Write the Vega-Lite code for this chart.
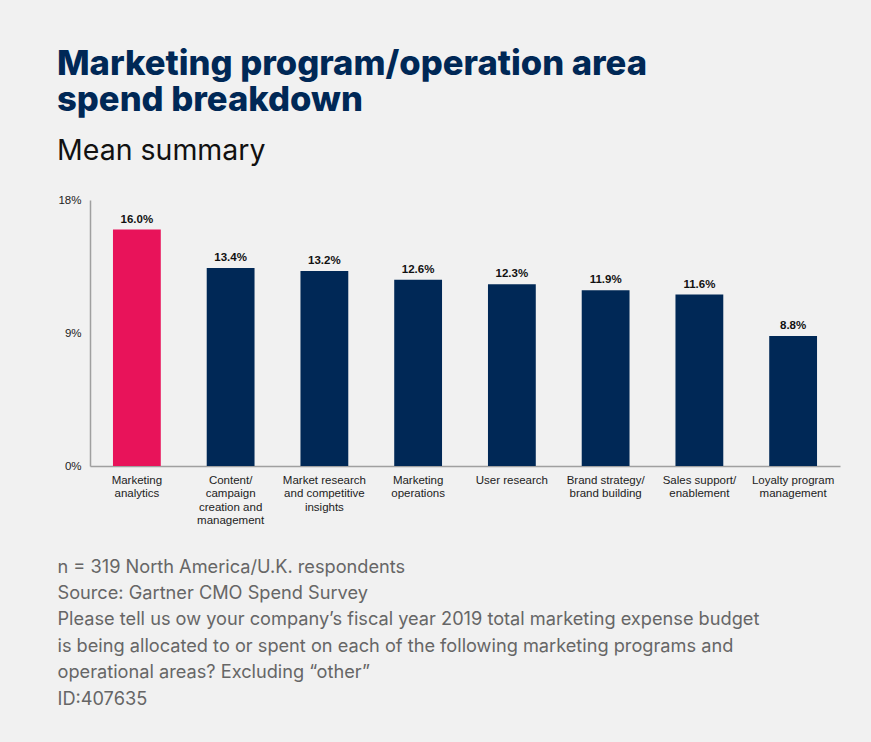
{
  "$schema": "https://vega.github.io/schema/vega-lite/v6.json",
  "width": 750,
  "height": 266,
  "background": "#f1f1f1",
  "padding": {"left": 57, "top": 46, "right": 40, "bottom": 60},
  "title": {
    "text": ["Marketing program/operation area", "spend breakdown"],
    "subtitle": "Mean summary",
    "anchor": "start",
    "frame": "bounds",
    "font": "Inter",
    "fontSize": 34.6,
    "fontWeight": 800,
    "color": "#002856",
    "lineHeight": 36,
    "subtitleFont": "Inter",
    "subtitleFontSize": 28.5,
    "subtitleFontWeight": 400,
    "subtitleColor": "#111111",
    "subtitlePadding": 18,
    "offset": 28
  },
  "config": {
    "view": {"stroke": null},
    "axis": {"labelFont": "Liberation Sans", "labelFontSize": 11.5, "labelColor": "#222222", "domainColor": "#a0a0a0", "domainWidth": 1.5, "ticks": false, "grid": false}
  },
  "data": {
    "values": [
      {"area": "Marketing|analytics", "share": 0.160},
      {"area": "Content/|campaign|creation and|management", "share": 0.134},
      {"area": "Market research|and competitive|insights", "share": 0.132},
      {"area": "Marketing|operations", "share": 0.126},
      {"area": "User research", "share": 0.123},
      {"area": "Brand strategy/|brand building", "share": 0.119},
      {"area": "Sales support/|enablement", "share": 0.116},
      {"area": "Loyalty program|management", "share": 0.088}
    ]
  },
  "encoding": {
    "x": {
      "field": "area",
      "type": "nominal",
      "sort": null,
      "scale": {"paddingInner": 0.49, "paddingOuter": 0.245},
      "axis": {
        "labelAngle": 0,
        "labelPadding": 8,
        "labelLineHeight": 13.5,
        "labelExpr": "split(datum.label, '|')",
        "title": ["n = 319 North America/U.K. respondents", "Source: Gartner CMO Spend Survey", "Please tell us ow your company\u2019s fiscal year 2019 total marketing expense budget", "is being allocated to or spent on each of the following marketing programs and", "operational areas? Excluding \u201cother\u201d", "ID:407635"],
        "titleFont": "Inter",
        "titleFontSize": 18.2,
        "titleFontWeight": 400,
        "titleColor": "#666666",
        "titleLineHeight": 26.4,
        "titleAnchor": "start",
        "titleAlign": "left",
        "titleBaseline": "top",
        "titleX": -33,
        "titleY": 92
      }
    },
    "y": {
      "field": "share",
      "type": "quantitative",
      "scale": {"domain": [0, 0.18]},
      "axis": {"values": [0, 0.09, 0.18], "format": ".0%", "labelPadding": 9, "title": null}
    }
  },
  "layer": [
    {
      "mark": {"type": "bar"},
      "encoding": {
        "color": {"condition": {"test": "datum.area === 'Marketing|analytics'", "value": "#e8135a"}, "value": "#002856"}
      }
    },
    {
      "mark": {"type": "text", "dy": -5, "baseline": "bottom", "font": "Liberation Sans", "fontSize": 11.5, "fontWeight": "bold", "color": "#111111"},
      "encoding": {"text": {"field": "share", "type": "quantitative", "format": ".1%"}}
    }
  ]
}
